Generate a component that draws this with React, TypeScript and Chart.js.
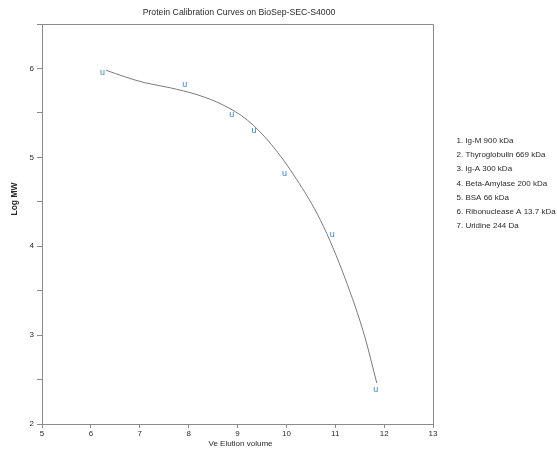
import React, { useEffect, useRef } from "react";
import { Chart, registerables } from "chart.js";

Chart.register(...registerables);

const chartTitle = "Protein Calibration Curves on BioSep-SEC-S4000";
const xAxisTitle = "Ve Elution volume";
const yAxisTitle = "Log MW";

const legendLines = [
  "1. Ig-M 900 kDa",
  "2. Thyroglobulin 669 kDa",
  "3. Ig-A 300 kDa",
  "4. Beta-Amylase 200 kDa",
  "5. BSA 66 kDa",
  "6. Ribonuclease A 13.7 kDa",
  "7. Uridine 244 Da",
];

// Calibration standards: elution volume vs log MW
const pointX = [6.24, 7.92, 8.88, 9.34, 9.96, 10.94, 11.83];
const pointY = [5.954, 5.825, 5.477, 5.301, 4.82, 4.137, 2.387];

// Fitted calibration curve
const curveX = [6.31, 6.7, 7.1, 7.6, 8.2, 8.7, 9.2, 9.7, 10.2, 10.7, 11.2, 11.6, 11.85];
const curveY = [5.98, 5.905, 5.84, 5.785, 5.7, 5.59, 5.42, 5.14, 4.76, 4.29, 3.64, 2.99, 2.46];

const xTickValues = [5, 6, 7, 8, 9, 10, 11, 12, 13];
const xTickLabels = ["5", "6", "7", "8", "9", "10", "11", "12", "13"];
const yTickValues = [2, 2.5, 3, 3.5, 4, 4.5, 5, 5.5, 6, 6.5];
const yTickLabels = ["2", "", "3", "", "4", "", "5", "", "6", ""];

const FONT = '"Liberation Sans", Arial, sans-serif';
const AXIS_GRAY = "#8a8a8a";
const TEXT = "#2a2a2a";
const MARK_BLUE = "#3b82cc";

const decor = {
  id: "decor",
  afterDatasetsDraw(chart: any) {
    const ctx = chart.ctx as CanvasRenderingContext2D;
    const meta = chart.getDatasetMeta(1);
    ctx.save();
    ctx.font = `9px ${FONT}`;
    ctx.fillStyle = MARK_BLUE;
    ctx.textAlign = "center";
    ctx.textBaseline = "alphabetic";
    meta.data.forEach((el: any) => {
      ctx.fillText("u", el.x, el.y + 2.5);
    });
    ctx.restore();
  },
  afterDraw(chart: any) {
    const ctx = chart.ctx as CanvasRenderingContext2D;
    const a = chart.chartArea;
    ctx.save();
    // top and right frame
    ctx.strokeStyle = AXIS_GRAY;
    ctx.lineWidth = 1;
    ctx.beginPath();
    ctx.moveTo(Math.round(a.left) + 0.5, Math.round(a.top) + 0.5);
    ctx.lineTo(Math.round(a.right) + 0.5, Math.round(a.top) + 0.5);
    ctx.lineTo(Math.round(a.right) + 0.5, Math.round(a.bottom) + 0.5);
    ctx.stroke();

    ctx.fillStyle = TEXT;
    // title
    ctx.font = `8.7px ${FONT}`;
    ctx.textAlign = "center";
    ctx.textBaseline = "middle";
    ctx.fillText(chartTitle, (a.left + a.right) / 2 + 1.5, 12.5);
    // x axis title
    ctx.font = `8px ${FONT}`;
    ctx.fillText(xAxisTitle, (a.left + a.right) / 2 + 3, 443.5);
    // y axis title
    ctx.save();
    ctx.translate(15, 199);
    ctx.rotate(-Math.PI / 2);
    ctx.font = `bold 8.5px ${FONT}`;
    ctx.fillText(yAxisTitle, 0, 0);
    ctx.restore();
    // legend list
    ctx.font = `8px ${FONT}`;
    ctx.textAlign = "left";
    legendLines.forEach((t, i) => {
      ctx.fillText(t, 456.5, 140.7 + i * 14.25);
    });
    ctx.restore();
  },
};

export default function App() {
  const ref = useRef<HTMLCanvasElement | null>(null);

  useEffect(() => {
    if (!ref.current) return;
    const chart = new Chart(ref.current, {
      type: "scatter",
      data: {
        datasets: [
          {
            label: "curve",
            data: curveX.map((x, i) => ({ x, y: curveY[i] })),
            showLine: true,
            borderColor: "#7a7a7a",
            borderWidth: 1,
            pointRadius: 0,
            cubicInterpolationMode: "monotone",
            fill: false,
          },
          {
            label: "standards",
            data: pointX.map((x, i) => ({ x, y: pointY[i] })),
            showLine: false,
            pointRadius: 0,
            pointHoverRadius: 0,
          },
        ],
      },
      options: {
        responsive: false,
        animation: false,
        events: [],
        layout: { padding: { top: 24, right: 124, left: 0, bottom: 0 } },
        plugins: {
          legend: { display: false },
          title: { display: false },
          tooltip: { enabled: false },
        },
        scales: {
          x: {
            type: "linear",
            min: 5,
            max: 13,
            afterFit: (s: any) => {
              s.height = 31;
            },
            afterBuildTicks: (s: any) => {
              s.ticks = xTickValues.map((v) => ({ value: v }));
            },
            ticks: {
              autoSkip: false,
              maxRotation: 0,
              padding: 1,
              color: TEXT,
              font: { family: FONT, size: 8 },
              callback: (_v: any, i: number) => xTickLabels[i],
            },
            grid: {
              display: true,
              drawOnChartArea: false,
              drawTicks: true,
              tickLength: 4,
              color: AXIS_GRAY,
            },
            border: { display: true, color: AXIS_GRAY, width: 1 },
          },
          y: {
            type: "linear",
            min: 2,
            max: 6.5,
            afterFit: (s: any) => {
              s.width = 42;
            },
            afterBuildTicks: (s: any) => {
              s.ticks = yTickValues.map((v) => ({ value: v }));
            },
            ticks: {
              autoSkip: false,
              padding: 3,
              color: TEXT,
              font: { family: FONT, size: 8 },
              callback: (_v: any, i: number) => yTickLabels[i],
            },
            grid: {
              display: true,
              drawOnChartArea: false,
              drawTicks: true,
              tickLength: 5,
              color: AXIS_GRAY,
            },
            border: { display: true, color: AXIS_GRAY, width: 1 },
          },
        },
      },
      plugins: [decor],
    });
    return () => chart.destroy();
  }, []);

  return (
    <div style={{ position: "absolute", left: 0, top: 0, width: 557, height: 455, background: "#fff" }}>
      <canvas ref={ref} width={557} height={455} style={{ width: 557, height: 455, display: "block" }} />
    </div>
  );
}
